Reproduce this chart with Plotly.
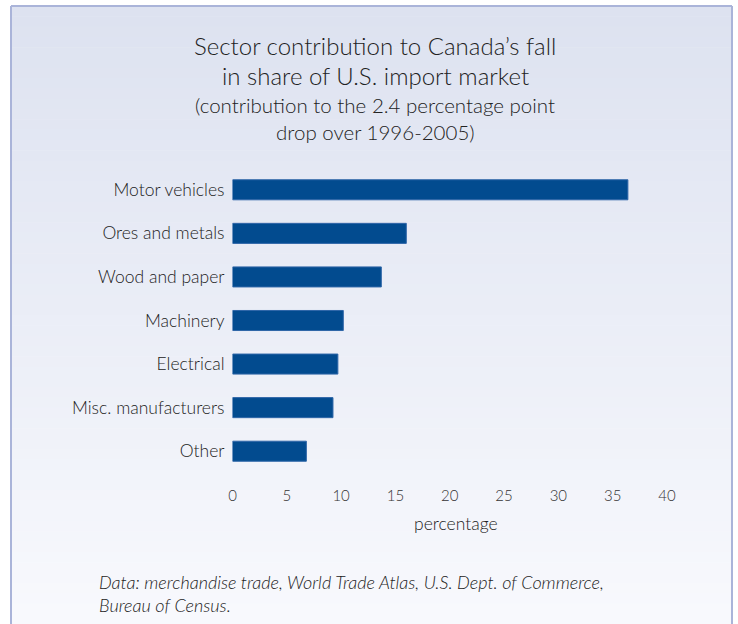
import plotly.graph_objects as go

categories = ["Motor vehicles", "Ores and metals", "Wood and paper", "Machinery",
              "Electrical", "Misc. manufacturers", "Other"]
values = [36.4, 16.0, 13.7, 10.2, 9.7, 9.25, 6.8]
x_ticks = [0, 5, 10, 15, 20, 25, 30, 35, 40]

title_lines = ["Sector contribution to Canada\u2019s fall", "in share of U.S. import market"]
subtitle_lines = ["(contribution to the 2.4 percentage point", "drop over 1996-2005)"]
footer_lines = ["Data: merchandise trade, World Trade Atlas, U.S. Dept. of Commerce,",
                "Bureau of Census."]

W, H = 738, 624
FONT = "Lato"
TXT = "#222222"
WT = 300

def px_x(v):
    return v / W

def px_y(v):
    return 1 - v / H

fig = go.Figure()
fig.add_trace(go.Bar(
    x=values, y=categories, orientation="h",
    marker=dict(color="#024b8f", line=dict(color="#2f66a8", width=1)),
    width=0.46, hoverinfo="x+y",
))

shapes = []
x0p, x1p, y0p, y1p = 11, 732, 6, 624
n = 60
top = (221, 226, 240)
bot = (248, 249, 253)
for i in range(n):
    t = i / (n - 1)
    c = tuple(round(top[k] + (bot[k] - top[k]) * t) for k in range(3))
    ya = y0p + (y1p - y0p) * i / n
    yb = y0p + (y1p - y0p) * (i + 1) / n + 0.5
    shapes.append(dict(type="rect", xref="paper", yref="paper",
                       x0=px_x(x0p), x1=px_x(x1p), y0=px_y(ya), y1=px_y(yb),
                       fillcolor="rgb(%d,%d,%d)" % c, line=dict(width=0), layer="below"))
bc = "#aab4d9"
for (xa, ya, xb, yb) in [(x0p, y0p, x1p, y0p), (x0p, y0p, x0p, y1p), (x1p, y0p, x1p, y1p)]:
    shapes.append(dict(type="line", xref="paper", yref="paper",
                       x0=px_x(xa), x1=px_x(xb), y0=px_y(ya), y1=px_y(yb),
                       line=dict(color=bc, width=2), layer="below"))

annotations = []
for txt, y, sz in [(title_lines[0], 46, 24), (title_lines[1], 75, 24),
                   (subtitle_lines[0], 105, 20.5), (subtitle_lines[1], 132, 20.5)]:
    annotations.append(dict(text=txt, xref="paper", yref="paper", x=px_x(375), y=px_y(y),
                            xanchor="center", yanchor="middle", showarrow=False,
                            font=dict(family=FONT, size=sz, color=TXT, weight=WT)))
for txt, y in [(footer_lines[0], 582), (footer_lines[1], 605)]:
    annotations.append(dict(text="<i>" + txt + "</i>", xref="paper", yref="paper",
                            x=px_x(97), y=px_y(y), xanchor="left", yanchor="middle",
                            showarrow=False, font=dict(family=FONT, size=18, color=TXT, weight=WT)))
annotations.append(dict(text="percentage", xref="paper", yref="paper", x=px_x(456), y=px_y(523),
                        xanchor="center", yanchor="middle", showarrow=False,
                        font=dict(family=FONT, size=17.5, color=TXT, weight=WT)))

fig.update_layout(
    width=W, height=H,
    margin=dict(l=0, r=0, t=0, b=0, autoexpand=False),
    paper_bgcolor="white", plot_bgcolor="rgba(0,0,0,0)",
    showlegend=False, bargap=0.54,
    shapes=shapes, annotations=annotations,
    font=dict(family=FONT, color=TXT),
    xaxis=dict(domain=[px_x(232.5), px_x(667)], range=[0, 40], tickvals=x_ticks,
               showgrid=False, zeroline=False, showline=False, ticks="",
               ticklabelstandoff=12, tickfont=dict(size=15, color="#333333", weight=WT),
               fixedrange=True),
    yaxis=dict(domain=[px_y(473), px_y(168)], autorange="reversed", categoryorder="array",
               categoryarray=categories, showgrid=False, zeroline=False, showline=False,
               ticks="", ticklabelstandoff=7, tickfont=dict(size=17.5, color=TXT, weight=WT),
               fixedrange=True),
)

fig.write_html("out.html", config={"displayModeBar": False},
               post_script="document.body.style.margin='0';document.body.style.padding='0';")
